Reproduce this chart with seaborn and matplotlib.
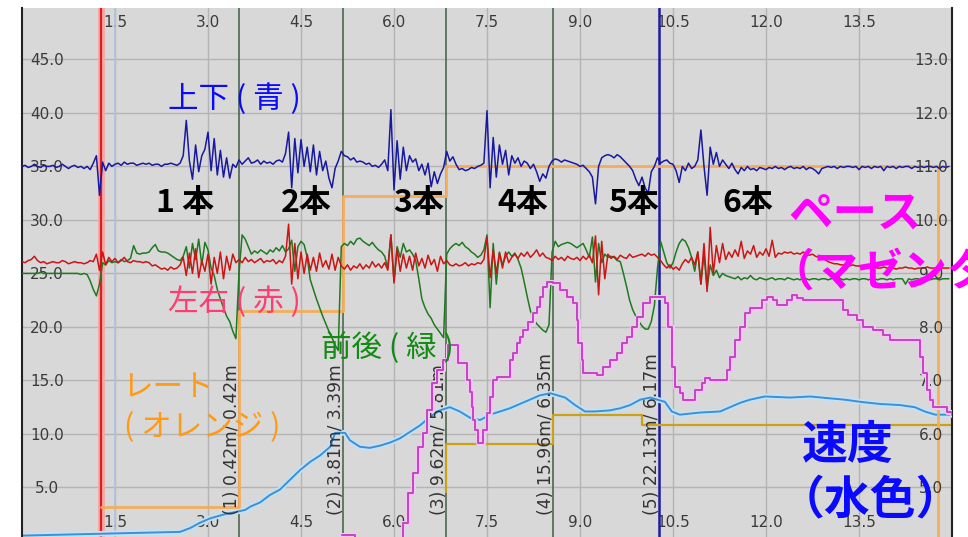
import numpy as np
import pandas as pd
import matplotlib
matplotlib.use("Agg")
import matplotlib.pyplot as plt
import seaborn as sns

# ---------------------------------------------------------------- data
SAMPLE_DT = 0.05  # seconds between samples of the acceleration traces

# 上下 (vertical) acceleration, left-axis units
updown = [
    35.0, 35.1, 34.9, 35.0, 35.2, 35.0, 34.9, 35.1, 35.0, 35.0,
    35.1, 34.9, 35.0, 35.2, 35.0, 34.8, 35.0, 35.1, 34.9, 35.0,
    34.8, 35.0, 34.7, 35.3, 36.0, 32.3, 35.4, 34.6, 35.3, 35.0,
    35.2, 35.3, 35.1, 35.4, 35.2, 35.3, 35.3, 35.1, 35.2, 35.3,
    35.2, 35.3, 35.1, 35.2, 35.2, 35.0, 35.2, 35.2, 35.3, 35.2,
    35.1, 35.3, 36.0, 39.3, 35.5, 33.8, 37.0, 34.5, 36.0, 36.6,
    38.2, 34.6, 37.6, 34.2, 36.5, 34.0, 35.8, 33.9, 35.2, 34.9,
    35.6, 35.2, 35.5, 35.8, 35.3, 35.4, 35.6, 35.2, 35.5, 35.3,
    35.4, 35.2, 35.5, 35.6, 35.4, 36.2, 38.2, 33.0, 37.6, 34.4,
    37.5, 35.0, 36.8, 34.5, 37.0, 34.2, 36.4, 34.6, 35.5, 33.9,
    33.0, 34.8, 35.5, 36.4, 36.0, 35.9, 35.6, 35.8, 35.4, 35.5,
    35.4, 35.2, 35.3, 35.0, 35.1, 34.9, 35.2, 35.6, 34.6, 40.3,
    32.8, 37.4, 33.8, 36.8, 34.6, 36.0, 35.4, 35.7, 34.6, 35.2,
    34.2, 35.3, 33.1, 34.5, 33.4, 34.3, 34.9, 36.4, 35.5, 35.9,
    35.2, 34.7, 34.8, 34.6, 34.7, 34.9, 34.8, 35.0, 35.1, 35.3,
    40.2, 33.0, 37.7, 34.0, 37.0, 35.2, 36.5, 34.2, 36.0, 35.3,
    35.8, 35.0, 35.5, 35.3, 34.8, 35.2, 34.5, 33.6, 34.3, 33.9,
    35.0, 35.5, 35.7, 35.6, 35.4, 35.6, 35.5, 35.4, 35.3, 35.2,
    35.0, 35.1, 34.8, 34.5, 34.0, 31.5, 35.0, 35.8, 36.0, 36.1,
    36.0, 35.8, 36.1, 35.9, 35.6, 35.3, 35.0, 34.6, 33.8, 33.2,
    34.0, 33.0, 32.5, 34.5, 35.0, 35.8, 35.3, 35.5, 35.6, 35.3,
    35.2, 34.6, 33.5, 35.0, 34.6, 35.3, 34.8, 35.0, 35.6, 38.4,
    35.0, 32.3, 36.8, 35.2, 36.3, 35.0, 35.6, 35.2, 34.8, 35.3,
    34.7, 34.3, 34.9, 34.6, 35.0, 34.7, 34.8, 34.6, 34.9, 34.8,
    34.7, 34.9, 34.8, 35.0, 34.8, 34.9, 34.7, 34.9, 35.0, 34.8,
    34.9, 34.8, 35.0, 34.7, 34.9, 34.8, 34.6, 34.3, 34.8, 34.9,
    35.0, 34.9, 35.0, 34.8, 35.0, 34.9, 35.0, 35.0, 34.9, 35.0,
    34.7, 35.0, 34.9, 35.0, 34.8, 35.0, 34.9, 35.0, 34.6, 35.0,
    34.9, 35.0, 34.8, 35.0, 34.9, 35.0, 35.0, 34.8, 35.0, 34.9,
    35.0, 34.9, 35.0, 35.0, 34.9, 35.0, 34.8, 35.0, 34.9, 35.0,
]

# 左右 (lateral) acceleration
leftright = [
    26.1, 26.0, 26.2, 26.3, 26.6, 26.2, 26.0, 26.1, 25.9, 26.0,
    26.1, 26.0, 26.0, 26.2, 26.1, 25.9, 26.0, 26.1, 26.0, 26.0,
    25.9, 26.0, 26.2, 26.1, 26.8, 25.3, 27.0, 25.8, 26.5, 26.1,
    26.4, 26.0, 26.2, 26.5, 26.1, 26.0, 26.2, 26.1, 26.1, 26.0,
    26.1, 26.0, 25.7, 25.8, 25.6, 25.4, 25.5, 25.3, 25.6, 25.4,
    25.5, 25.8, 26.5, 24.8, 26.9, 25.0, 27.3, 24.6, 26.2, 25.2,
    26.8, 24.0, 26.5, 25.0, 27.0, 24.5, 26.6, 25.3, 26.8, 26.0,
    26.3, 26.0, 26.5, 26.1, 26.3, 26.0, 26.2, 26.4, 26.0, 26.2,
    26.1, 26.3, 25.9, 26.2, 26.0, 26.6, 29.6, 24.0, 27.8, 24.5,
    27.0, 25.0, 26.8, 25.3, 26.5, 25.2, 26.9, 25.6, 26.2, 25.4,
    26.8, 25.3, 26.5, 25.7, 25.4, 25.8, 25.3, 25.7, 25.5, 25.9,
    25.4, 25.8, 25.5, 26.1, 25.6, 25.9, 25.5, 26.0, 25.3, 28.6,
    24.1, 27.3, 25.2, 26.8, 25.5, 26.6, 25.3, 26.9, 25.7, 26.4,
    25.5, 26.7, 25.8, 26.3, 25.2, 26.6, 25.9, 26.2, 25.8, 25.7,
    25.9, 25.7, 25.8, 26.0, 25.7, 25.9, 25.8, 26.0, 25.9, 26.3,
    28.4, 24.6, 27.2, 25.0, 26.9, 25.5, 27.0, 26.0, 26.5, 26.8,
    26.4, 26.9, 26.6, 27.0, 26.5, 26.8, 27.2, 26.6, 26.9, 26.5,
    26.4, 26.2, 26.6, 26.3, 26.5, 26.2, 26.6, 26.4, 26.3, 26.5,
    26.2, 26.6, 26.3, 26.7, 26.0, 28.5, 23.0, 28.0, 24.5, 26.8,
    26.4, 26.6, 26.3, 26.7, 26.5, 26.4, 26.8, 26.5, 26.6, 26.7,
    26.8, 26.6, 26.9, 26.7, 26.8, 26.5, 26.2, 25.8, 25.5, 25.8,
    25.4, 25.6, 25.3, 25.9, 26.3, 26.0, 26.5, 25.8, 27.0, 24.0,
    27.8, 23.3, 29.3, 25.0, 27.6, 26.0, 27.8, 26.3, 27.0, 26.5,
    27.2, 26.6, 28.0, 26.4, 27.1, 26.8, 27.6, 26.5, 27.0, 26.7,
    27.3, 26.6, 28.1, 26.5, 26.9, 26.8, 27.0, 26.9, 27.0, 26.8,
    26.9, 26.8, 27.0, 26.8, 26.7, 26.8, 26.6, 26.5, 26.4, 26.3,
    26.1, 26.0, 25.9, 25.9, 25.8, 25.8, 25.8, 25.7, 25.8, 25.7,
    25.7, 25.6, 25.7, 25.6, 25.5, 25.6, 25.5, 25.5, 25.6, 25.5,
    25.5, 25.5, 25.4, 25.5, 25.5, 25.6, 25.5, 25.5, 25.4, 25.5,
    25.5, 25.5, 25.6, 25.5, 25.5, 25.5, 25.4, 25.5, 25.5, 25.5,
]

# 前後 (fore-aft) acceleration
foreaft = [
    25.0, 25.0, 25.0, 25.0, 25.0, 25.0, 25.1, 25.0, 25.0, 25.0,
    25.0, 25.0, 25.0, 25.0, 25.0, 25.0, 25.0, 25.0, 25.0, 24.9,
    25.0, 24.9, 24.3, 23.5, 22.9, 24.0, 26.0, 25.8, 26.2, 26.0,
    26.1, 26.0, 26.3, 26.1, 26.2, 26.4, 27.6, 26.9, 26.8, 26.9,
    26.9, 27.0, 27.4, 27.7, 27.1, 27.0, 27.0, 26.9, 26.7, 26.5,
    26.3, 26.2, 26.6, 27.5, 25.5, 27.8, 26.3, 28.2, 25.8, 27.9,
    27.2, 25.5, 24.8, 23.5, 22.6, 21.8, 21.0, 20.5, 19.6, 18.9,
    25.0, 28.6, 28.2, 27.5, 26.8, 27.1, 26.9, 27.2, 27.0, 26.8,
    27.2, 27.0, 27.4, 27.1, 27.6, 27.0, 27.3, 28.1, 25.2, 27.5,
    28.0, 27.7, 26.5, 24.4, 23.5, 22.6, 21.8, 21.0, 20.3, 19.6,
    19.0, 18.3, 17.8, 27.5, 27.8, 27.6, 28.0, 27.7, 28.2, 28.3,
    28.0, 27.8, 27.6, 27.9, 27.5, 27.2, 27.0, 26.6, 25.5, 28.6,
    24.3, 27.5, 26.5, 27.8, 27.0, 27.2, 26.8, 26.2, 24.5, 22.6,
    21.8, 21.2, 20.8, 20.2, 19.8, 19.4, 19.0, 26.8, 27.3, 27.6,
    27.8, 27.6, 27.9, 27.5, 27.3, 27.0, 26.8, 26.5, 26.7, 27.2,
    28.6, 21.8, 27.8, 24.0, 27.0, 25.8, 26.6, 27.0, 26.6, 26.9,
    26.3, 25.5, 24.2, 22.8, 21.5, 20.8, 20.3, 20.0, 19.7, 19.5,
    20.2, 27.0, 28.0, 27.5, 27.7, 27.8, 27.9, 27.8, 27.6, 27.4,
    27.6, 27.8, 27.2, 26.5, 28.4, 24.2, 27.8, 26.0, 26.8, 26.5,
    26.6, 26.5, 26.2, 26.1, 25.0, 23.8, 22.5, 21.6, 21.0, 20.5,
    20.1, 19.8, 19.8, 20.5, 22.0, 25.5, 28.0, 27.0, 26.0, 25.5,
    26.0, 27.0, 27.8, 28.2, 28.0, 27.4, 26.5, 25.2, 27.0, 24.0,
    26.8, 23.6, 25.8, 24.8, 25.3, 24.6, 25.0, 24.8, 24.7, 24.6,
    24.5, 24.7, 24.4, 24.6, 24.5, 24.8, 24.5, 24.4, 24.6, 24.5,
    24.4, 24.5, 24.6, 24.4, 24.5, 24.5, 24.4, 24.6, 24.5, 24.4,
    24.5, 24.4, 24.6, 24.5, 24.4, 24.5, 24.5, 24.4, 24.5, 24.5,
    24.4, 24.5, 24.6, 24.8, 24.5, 24.4, 24.5, 24.4, 24.5, 24.5,
    24.4, 24.5, 24.5, 24.4, 24.5, 24.5, 24.4, 24.5, 24.5, 24.4,
    24.5, 24.4, 24.5, 24.5, 24.5, 24.0, 24.5, 24.4, 24.5, 24.5,
    24.4, 24.5, 24.5, 24.4, 24.5, 24.5, 24.4, 24.5, 24.5, 24.5,
]

# 速度 (boat speed), left-axis units
speed_t = [
    0.00, 2.55, 2.71, 2.87, 3.03, 3.27, 3.44, 3.60, 3.68, 3.84,
    4.00, 4.16, 4.32, 4.48, 4.65, 4.81, 4.97, 5.05, 5.21, 5.29,
    5.45, 5.61, 5.77, 5.94, 6.10, 6.26, 6.42, 6.58, 6.74, 6.90,
    7.06, 7.23, 7.39, 7.55, 7.71, 7.87, 8.03, 8.19, 8.35, 8.52,
    8.76, 8.92, 9.08, 9.24, 9.48, 9.65, 9.81, 9.97, 10.13, 10.37,
    10.48, 10.61, 10.94, 11.26, 11.42, 11.58, 11.74, 11.98, 12.39, 12.71,
    13.27, 13.52, 13.84, 14.16, 14.40, 14.56, 14.73, 15.00,
]
speed = [
    0.5, 0.85, 1.2, 1.7, 2.1, 2.5, 2.7, 2.9, 3.2, 3.6,
    4.3, 4.8, 5.7, 6.6, 7.4, 8.0, 8.8, 10.1, 10.1, 9.4,
    8.8, 8.7, 8.9, 9.2, 9.6, 10.2, 10.8, 11.6, 12.2, 12.5,
    12.1, 11.5, 11.3, 11.8, 12.1, 12.4, 12.8, 13.2, 13.6, 13.8,
    13.4, 12.7, 12.1, 12.1, 12.2, 12.4, 12.7, 13.2, 13.4, 13.0,
    12.1, 11.8, 12.0, 12.1, 12.5, 12.9, 13.2, 13.5, 13.4, 13.5,
    13.2, 13.0, 12.8, 12.7, 12.5, 12.1, 11.8, 11.8,
]

# ペース (pace), right-axis units
pace_t = [
    5.16, 5.37, 6.13, 6.15, 6.23, 6.31, 6.39, 6.47, 6.53, 6.61,
    6.69, 6.79, 6.87, 7.03, 7.18, 7.23, 7.26, 7.27, 7.31, 7.35,
    7.44, 7.50, 7.55, 7.60, 7.66, 7.87, 7.92, 7.98, 8.03, 8.08,
    8.16, 8.24, 8.31, 8.35, 8.40, 8.47, 8.56, 8.68, 8.79, 8.89,
    8.95, 8.97, 9.03, 9.05, 9.27, 9.37, 9.48, 9.60, 9.68, 9.76,
    9.84, 9.92, 10.02, 10.13, 10.37, 10.42, 10.48, 10.53, 10.61, 10.66,
    10.85, 10.97, 11.02, 11.10, 11.37, 11.42, 11.50, 11.58, 11.66, 11.74,
    11.94, 12.02, 12.11, 12.18, 12.34, 12.42, 12.50, 12.60, 13.24, 13.32,
    13.47, 13.56, 13.73, 13.89, 14.00, 14.48, 14.53, 14.60, 14.65, 14.69,
    14.92, 15.00,
]
pace = [
    4.11, 3.80, 4.04, 4.34, 4.90, 5.27, 5.76, 6.02, 6.45, 6.95,
    7.20, 7.38, 7.66, 7.33, 7.01, 6.79, 6.50, 6.26, 6.07, 5.83,
    6.07, 6.39, 6.69, 7.01, 7.07, 7.38, 7.51, 7.70, 7.81, 7.94,
    8.09, 8.26, 8.37, 8.56, 8.75, 8.84, 8.82, 8.69, 8.56, 8.45,
    8.13, 7.70, 7.38, 7.14, 7.10, 7.25, 7.38, 7.51, 7.70, 7.81,
    8.00, 8.19, 8.45, 8.56, 8.45, 8.00, 7.25, 6.88, 6.77, 6.64,
    6.82, 6.95, 7.05, 7.01, 7.20, 7.44, 7.76, 8.00, 8.26, 8.36,
    8.50, 8.56, 8.50, 8.41, 8.50, 8.60, 8.54, 8.50, 8.32, 8.22,
    8.13, 8.00, 7.94, 7.85, 7.76, 7.44, 7.14, 6.82, 6.64, 6.50,
    6.41, 6.36,
]

# レート (stroke rate) steps
rate_t = [1.27, 3.50, 5.18, 6.84, 14.77]
rate = [3.2, 21.5, 32.2, 35.0, 0.0]

# secondary level steps (gold)
level_t = [6.84, 6.84, 8.56, 10.00, 15.00]
level = [4.6, 9.1, 11.8, 10.8, 10.8]

# start and split markers
START_T = 1.27
SPLIT_T = [3.50, 5.18, 6.84, 8.56, 10.27]
SPLIT_CUM = [0.42, 3.81, 9.62, 15.96, 22.13]
SPLIT_DIST = [0.42, 3.39, 5.81, 6.35, 6.17]
STROKE_LABELS = ["1 本", "2本", "3本", "4本", "5本", "6本"]
STROKE_X = [2.63, 4.58, 6.39, 8.08, 9.87, 11.71]

X_TICKS = [1.5, 3.0, 4.5, 6.0, 7.5, 9.0, 10.5, 12.0, 13.5]
LEFT_TICKS = [5.0, 10.0, 15.0, 20.0, 25.0, 30.0, 35.0, 40.0, 45.0]
RIGHT_TICKS = [5.0, 6.0, 7.0, 8.0, 9.0, 10.0, 11.0, 12.0, 13.0]

# ---------------------------------------------------------------- style
sns.set_theme(style="white")
plt.rcParams["font.family"] = ["DejaVu Sans"]
JP = ["Noto Sans CJK JP", "DejaVu Sans"]

t_acc = np.arange(len(updown)) * SAMPLE_DT
acc = pd.DataFrame({"t": t_acc, "updown": updown,
                    "leftright": leftright, "foreaft": foreaft})
spd = pd.DataFrame({"t": speed_t, "v": speed})
pc = pd.DataFrame({"t": pace_t, "v": pace})
rt = pd.DataFrame({"t": rate_t, "v": rate})
lv = pd.DataFrame({"t": level_t, "v": level})

fig = plt.figure(figsize=(9.68, 5.37), dpi=100)
ax = fig.add_axes([22 / 968, 0.0, 930 / 968, 529 / 537])
ax.set_facecolor("#d8d8d8")
ax.set_xlim(0, 15)
ax.set_ylim(0.37, 49.8)
ax.grid(True, color="#b4b4b4", linewidth=1.0)
ax.set_axisbelow(True)

ax2 = ax.twinx()
ax2.set_ylim(4 + 0.37 / 5, 4 + 49.8 / 5)

# markers
ax.axvline(1.5, color="#a9c6e2", lw=1.2, zorder=1)
ax.axvline(START_T, color="#f3a9a9", lw=5, zorder=1.5)
ax.axvline(START_T, color="#dc1e1e", lw=1.6, zorder=1.6)
for t in SPLIT_T[:-1]:
    ax.axvline(t, color="#4f6650", lw=1.2, zorder=1.6)
ax.axvline(SPLIT_T[-1], color="#1c1ca0", lw=1.8, zorder=1.6)

common = dict(ax=ax, estimator=None, sort=False, legend=False)

# speed with soft halo
sns.lineplot(data=spd, x="t", y="v", color="#c2e2f6", lw=4.0, zorder=2, **common)
sns.lineplot(data=spd, x="t", y="v", color="#3d8fd6", lw=1.4, zorder=2.1, **common)

# gold level steps
sns.lineplot(data=lv, x="t", y="v", color="#c9a21a", lw=1.6,
             drawstyle="steps-post", zorder=2.2, **common)

# stroke rate steps
sns.lineplot(data=rt, x="t", y="v", color="#f4ad5c", lw=2.0,
             drawstyle="steps-post", zorder=2.3, **common)

# acceleration traces
sns.lineplot(data=acc, x="t", y="foreaft", color="#1f7a1f", lw=1.1, zorder=3, **common)
sns.lineplot(data=acc, x="t", y="leftright", color="#cc1414", lw=1.1, zorder=3.1, **common)
sns.lineplot(data=acc, x="t", y="updown", color="#1818a0", lw=1.1, zorder=3.2, **common)

# pace on the right axis
common2 = dict(ax=ax2, estimator=None, sort=False, legend=False)
sns.lineplot(data=pc, x="t", y="v", color="#f3c6f3", lw=3.6,
             drawstyle="steps-post", zorder=2, **common2)
sns.lineplot(data=pc, x="t", y="v", color="#c444c4", lw=1.4,
             drawstyle="steps-post", zorder=2.1, **common2)

ax.set_xlabel("")
ax.set_ylabel("")
ax2.set_ylabel("")

# ticks drawn inside the plot area
tick_color = "#3a3a3a"
ax.set_xticks(X_TICKS, labels=[f"{v:.1f}" for v in X_TICKS])
ax.tick_params(axis="x", length=0, top=True, bottom=True, labeltop=True,
               labelbottom=True, pad=-15.5, labelsize=11, labelcolor=tick_color)
ax.set_yticks(LEFT_TICKS, labels=[f"{v:.1f}" for v in LEFT_TICKS], ha="center")
ax.tick_params(axis="y", length=0, pad=-18, labelsize=11, labelcolor=tick_color)
ax2.set_yticks(RIGHT_TICKS, labels=[f"{v:.1f}" for v in RIGHT_TICKS], ha="center")
ax2.tick_params(axis="y", length=0, pad=-15, labelsize=11, labelcolor=tick_color)
ax2.grid(False)

for s in ["top", "bottom"]:
    ax.spines[s].set_visible(False)
for s in ["left", "right"]:
    ax.spines[s].set_color("#222222")
    ax.spines[s].set_linewidth(1.5)
for s in ax2.spines.values():
    s.set_visible(False)

# split annotations
for t, cum, dist, n in zip(SPLIT_T, SPLIT_CUM, SPLIT_DIST, range(1, 6)):
    ax.text(t - 0.115, 2.4, f"({n}) {cum:.2f}m/ {dist:.2f}m", rotation=90,
            ha="center", va="bottom", fontsize=12.3, color="#333333", zorder=4)

# series captions
tr = ax.transData
def caption(x, y, s, color, size, weight="normal"):
    ax2.text(x, y, s, transform=tr, ha="left", va="center", color=color,
             fontsize=size, fontweight=weight, family=JP, zorder=10)

caption(2.35, 41.3, "上下 ( 青 )", "#0a0aff", 22)
caption(2.35, 22.3, "左右 ( 赤 )", "#ff3d73", 22)
caption(4.83, 18.0, "前後 ( 緑 )", "#138a13", 22)
caption(1.61, 14.3, "レート", "#ff9a14", 22)
caption(1.64, 10.6, "( オレンジ )", "#ff9a14", 22)
caption(12.355, 30.6, "ペース", "#ff00ff", 32, "bold")
caption(12.05, 25.1, "（マゼンタ）", "#ff00ff", 32, "bold")
caption(12.58, 8.9, "速度", "#0a0aff", 33, "bold")
caption(12.2, 3.8, "（水色）", "#0a0aff", 33, "bold")

for x, s in zip(STROKE_X, STROKE_LABELS):
    ax2.text(x, 31.6, s, transform=tr, ha="center", va="center", color="black",
             fontsize=23, fontweight="bold", family=JP, zorder=10)

fig.savefig("out.png", dpi=100, facecolor="white")
